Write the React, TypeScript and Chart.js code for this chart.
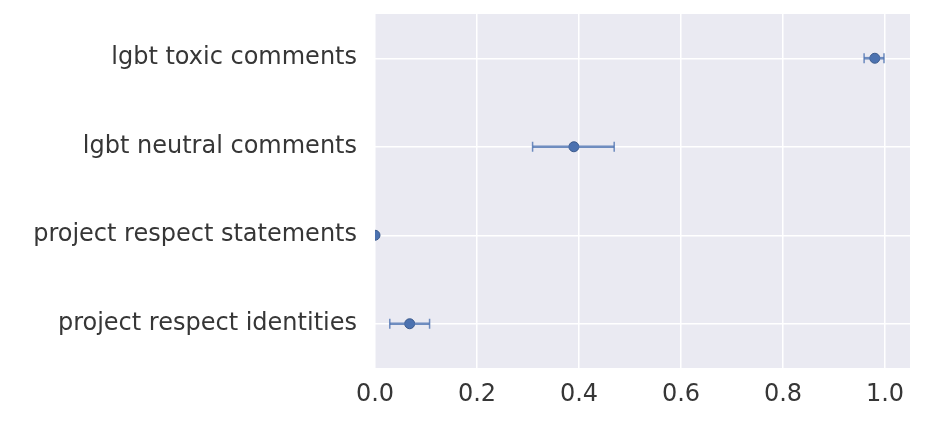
import React, { useEffect, useRef } from "react";
import { Chart, registerables } from "chart.js";

Chart.register(...registerables);

const categories = [
  "lgbt toxic comments",
  "lgbt neutral comments",
  "project respect statements",
  "project respect identities",
];
const means = [0.98, 0.39, 0.0, 0.068];
const lowers = [0.959, 0.309, 0.0, 0.029];
const uppers = [0.998, 0.469, 0.0, 0.107];
const xTickStep = 0.2;
const xMax = 1.049;

const errorBarPlugin = {
  id: "errorBars",
  afterDatasetsDraw(chart: any) {
    const { ctx, scales, chartArea } = chart;
    const xs = scales.x;
    const ys = scales.y;
    ctx.save();
    ctx.beginPath();
    ctx.rect(chartArea.left, chartArea.top, chartArea.right - chartArea.left, chartArea.bottom - chartArea.top);
    ctx.clip();
    ctx.strokeStyle = "rgba(76,114,176,0.8)";
    categories.forEach((_, i) => {
      if (uppers[i] - lowers[i] <= 0) return;
      const y = ys.getPixelForValue(i);
      const x1 = xs.getPixelForValue(lowers[i]);
      const x2 = xs.getPixelForValue(uppers[i]);
      ctx.lineWidth = 2.7;
      ctx.beginPath();
      ctx.moveTo(x1, y);
      ctx.lineTo(x2, y);
      ctx.stroke();
      ctx.lineWidth = 1.5;
      ctx.beginPath();
      ctx.moveTo(x1, y - 5);
      ctx.lineTo(x1, y + 5);
      ctx.moveTo(x2, y - 5);
      ctx.lineTo(x2, y + 5);
      ctx.stroke();
    });
    ctx.restore();
  },
};

const bgPlugin = {
  id: "plotBg",
  beforeDraw(chart: any) {
    const { ctx, chartArea } = chart;
    ctx.save();
    ctx.fillStyle = "#EAEAF2";
    ctx.fillRect(chartArea.left, chartArea.top, chartArea.right - chartArea.left, chartArea.bottom - chartArea.top);
    ctx.restore();
  },
};

export default function App() {
  const ref = useRef<HTMLCanvasElement | null>(null);
  useEffect(() => {
    document.body.style.margin = "0";
    const canvas = ref.current;
    if (!canvas) return;
    const font = { family: "DejaVu Sans", size: 24 };
    const chart = new Chart(canvas, {
      type: "scatter",
      data: {
        datasets: [
          {
            data: means.map((m, i) => ({ x: m, y: i })),
            backgroundColor: "#4C72B0",
            borderColor: "#3B5A8C",
            borderWidth: 1,
            pointRadius: 5,
            showLine: false,
          },
        ],
      },
      options: {
        animation: false,
        responsive: false,
        layout: { padding: { top: 14, right: 16, left: 0, bottom: 0 } },
        plugins: { legend: { display: false }, tooltip: { enabled: false } },
        scales: {
          x: {
            type: "linear",
            min: 0,
            max: xMax,
            grid: { color: "#FFFFFF", lineWidth: 1.5, drawTicks: false },
            border: { display: false },
            ticks: {
              stepSize: xTickStep,
              includeBounds: false,
              padding: 12,
              color: "#363636",
              font,
              maxRotation: 0,
              callback: (v: any) => Number(v).toFixed(1),
            },
            afterFit: (s: any) => {
              s.height = 58;
              s.paddingLeft = 0;
              s.paddingRight = 0;
            },
          },
          y: {
            type: "linear",
            min: -0.5,
            max: 3.5,
            reverse: true,
            grid: { color: "#FFFFFF", lineWidth: 1.5, drawTicks: false },
            border: { display: false },
            afterBuildTicks: (s: any) => {
              s.ticks = categories.map((_, i) => ({ value: i }));
            },
            ticks: {
              padding: 18,
              color: "#363636",
              font,
              callback: (v: any) => categories[Number(v)] ?? "",
            },
            afterFit: (s: any) => {
              s.width = 375;
              s.paddingTop = 0;
              s.paddingBottom = 0;
            },
          },
        },
      },
      plugins: [bgPlugin, errorBarPlugin],
    });
    return () => chart.destroy();
  }, []);
  return <canvas ref={ref} width={926} height={426} style={{ display: "block" }} />;
}
